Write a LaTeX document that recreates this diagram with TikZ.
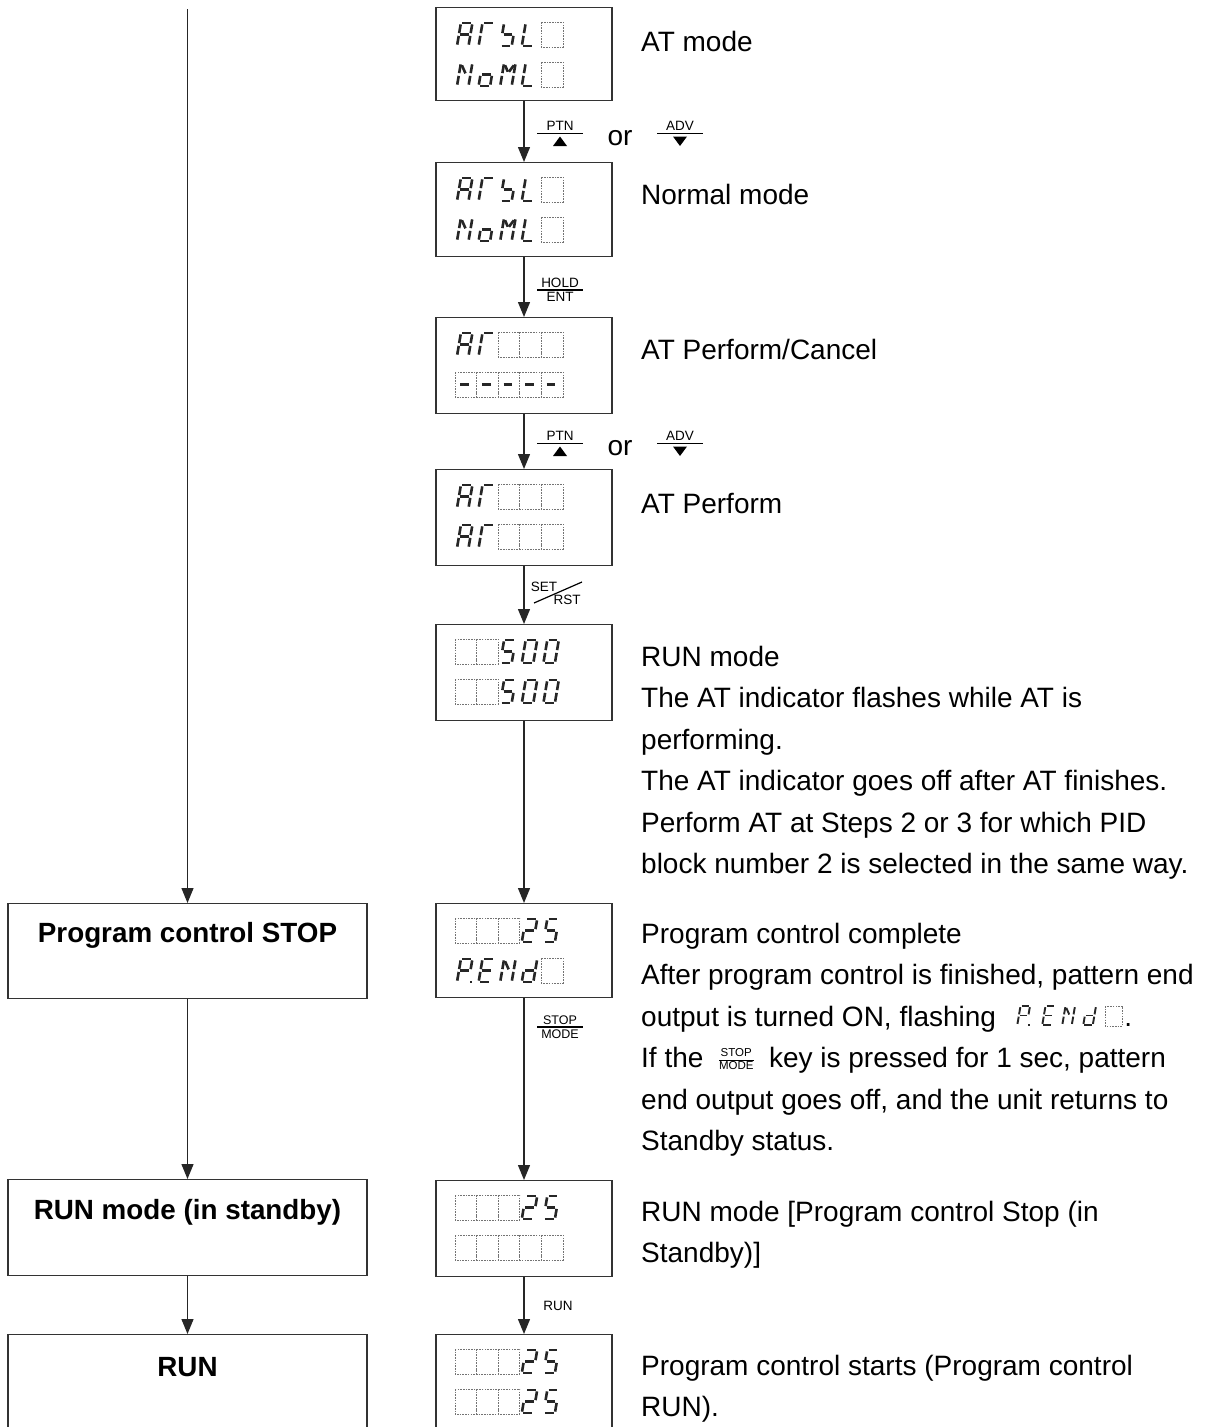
\documentclass[tikz,border=0pt]{standalone}
\usepackage{fontspec}
\setmainfont{Liberation Sans}
\usetikzlibrary{arrows.meta,calc}

% seven-segment pieces (local coords: x 0..1, y -1 top .. 0 bottom)
\newcommand\lcdSa{(0.12,-1)--(0.88,-1)}
\newcommand\lcdSb{(1,-0.94)--(1,-0.56)}
\newcommand\lcdSc{(1,-0.44)--(1,-0.06)}
\newcommand\lcdSd{(0.12,0)--(0.88,0)}
\newcommand\lcdSe{(0,-0.44)--(0,-0.06)}
\newcommand\lcdSf{(0,-0.94)--(0,-0.56)}
\newcommand\lcdSg{(0.12,-0.5)--(0.88,-0.5)}
\newcommand\lcdSn{(0.12,-0.9)--(0.55,-0.55)}
\newcommand\lcdSm{(0.12,-0.9)--(0.45,-0.62)}
\newcommand\lcdSk{(0.88,-0.9)--(0.55,-0.62)}
\newcommand\lcdSp{(1.16,0)--(1.3,0)}
\def\lcdW{11.5pt}\def\lcdH{23pt}
\newcommand\lcdchar[3]{\begin{scope}[shift={(#1,#2)},xslant=0.17,x=\lcdW,y=-\lcdH]%
\foreach \s in {#3}{\draw[lcdseg] \csname lcdS\s\endcsname;}\end{scope}}
\newcommand\glyph[3]{\pgfmathsetmacro\gx{455+21.6*(#1-1)+2}\pgfmathsetmacro\gy{#2+24}\lcdchar{\gx}{\gy}{#3}}
\newcommand\blank[2]{\pgfmathsetmacro\gx{455+21.6*(#1-1)}\draw[lcdcell] (\gx,#2) rectangle ++(21.6,25);}
\newcommand\dash[2]{\blank{#1}{#2}\glyph{#1}{#2}{g}}
\newcommand\inkey[2]{\raisebox{-1.5pt}{\fontsize{11.5}{11.5}\selectfont\setlength\arrayrulewidth{0.9pt}\setlength\tabcolsep{0pt}\begin{tabular}[b]{c}#1\\\hline #2\end{tabular}}}

\begin{document}
\begin{tikzpicture}[x=1pt,y=-1pt,
  lcdseg/.style={line width=2.6pt,draw=black!85},
  lcdcell/.style={draw=black!55,line width=0.8pt,dash pattern=on 1.6pt off 1.1pt},
  lcdbox/.style={draw=black!80,line width=1.3pt,minimum width=176pt,inner sep=0,anchor=north},
  lbox/.style={draw=black!80,line width=1.3pt,minimum width=359pt,inner sep=0,anchor=north},
  arr/.style={draw=black!85,line width=1.3pt,-{Triangle[width=12pt,length=15pt]}},
  txt/.style={anchor=base west,inner sep=0,font=\fontsize{28}{28}\selectfont},
  btxt/.style={inner sep=0,font=\fontsize{27.8}{27.8}\selectfont\bfseries},
  key/.style={inner sep=0,font=\fontsize{13.5}{13.5}\selectfont},
  skey/.style={inner sep=0,font=\fontsize{12.5}{12.5}\selectfont},
  rule/.style={line width=1.2pt,draw=black}]
\path[use as bounding box,clip] (0,0) rectangle (1206,1427);

% ---------- left column ----------
\coordinate (ltop) at (187.5,9);
\node[lbox,minimum height=95pt] (l1) at (187.5,903) {};
\node[lbox,minimum height=96pt] (l2) at (187.5,1179) {};
\node[lbox,minimum height=130pt] (l3) at (187.5,1334) {};
\node[btxt] (l1t) at (187.5,935) {Program control STOP};
\node[btxt] (l2t) at (187.5,1212) {RUN mode (in standby)};
\node[btxt] (l3t) at (187.5,1367) {RUN};
\draw[arr] (ltop) -- (l1.north);
\draw[arr] (l1.south) -- (l2.north);
\draw[arr] (l2.south) -- (l3.north);

% ---------- display boxes ----------
\node[lcdbox,minimum height=93pt] (b1) at (524,7) {};
\node[lcdbox,minimum height=94pt] (b2) at (524,162) {};
\node[lcdbox,minimum height=96pt] (b3) at (524,317) {};
\node[lcdbox,minimum height=96pt] (b4) at (524,469) {};
\node[lcdbox,minimum height=96pt] (b5) at (524,624) {};
\node[lcdbox,minimum height=94pt] (b6) at (524,903) {};
\node[lcdbox,minimum height=96pt] (b7) at (524,1180) {};
\node[lcdbox,minimum height=130pt] (b8) at (524,1334) {};

% box 1 and 2 : AT SL / NoML
\foreach \T in {7,162}{
  \pgfmathsetmacro\ra{\T+15}\pgfmathsetmacro\rb{\T+55}
  \glyph{1}{\ra}{a,b,c,e,f,g}\glyph{2}{\ra}{a,f,e}\glyph{3}{\ra}{f,g,c,d}\glyph{4}{\ra}{f,e,d}\blank{5}{\ra}
  \glyph{1}{\rb}{f,e,b,c,n}\glyph{2}{\rb}{g,c,d,e}\glyph{3}{\rb}{f,e,b,c,m,k}\glyph{4}{\rb}{f,e,d}\blank{5}{\rb}
}
% box 3
\glyph{1}{332}{a,b,c,e,f,g}\glyph{2}{332}{a,f,e}\blank{3}{332}\blank{4}{332}\blank{5}{332}
\dash{1}{372}\dash{2}{372}\dash{3}{372}\dash{4}{372}\dash{5}{372}
% box 4
\foreach \r in {484,524}{
  \glyph{1}{\r}{a,b,c,e,f,g}\glyph{2}{\r}{a,f,e}\blank{3}{\r}\blank{4}{\r}\blank{5}{\r}}
% box 5
\foreach \r in {639,679}{
  \blank{1}{\r}\blank{2}{\r}\glyph{3}{\r}{a,f,g,c,d}\glyph{4}{\r}{a,b,c,d,e,f}\glyph{5}{\r}{a,b,c,d,e,f}}
% box 6
\blank{1}{918}\blank{2}{918}\blank{3}{918}\glyph{4}{918}{a,b,g,e,d}\glyph{5}{918}{a,f,g,c,d}
\glyph{1}{958}{a,b,f,g,e,p}\glyph{2}{958}{a,f,g,e,d}\glyph{3}{958}{f,e,b,c,n}\glyph{4}{958}{b,c,d,e,g}\blank{5}{958}
% box 7
\blank{1}{1195}\blank{2}{1195}\blank{3}{1195}\glyph{4}{1195}{a,b,g,e,d}\glyph{5}{1195}{a,f,g,c,d}
\blank{1}{1235}\blank{2}{1235}\blank{3}{1235}\blank{4}{1235}\blank{5}{1235}
% box 8
\foreach \r in {1349,1389}{
  \blank{1}{\r}\blank{2}{\r}\blank{3}{\r}\glyph{4}{\r}{a,b,g,e,d}\glyph{5}{\r}{a,f,g,c,d}}

% ---------- centre arrows ----------
\draw[arr] (b1.south) -- (b2.north);
\draw[arr] (b2.south) -- (b3.north);
\draw[arr] (b3.south) -- (b4.north);
\draw[arr] (b4.south) -- (b5.north);
\draw[arr] (b5.south) -- (b6.north);
\draw[arr] (b6.south) -- (b7.north);
\draw[arr] (b7.south) -- (b8.north);

% ---------- key labels ----------
% PTN or ADV (1)
\node[key,anchor=south] (k1a) at (560,131) {PTN};
\draw[rule] (537,133.5) -- (583,133.5);
\fill (553,146) -- (567,146) -- (560,136.5) -- cycle;
\node[txt,anchor=base] (or1) at (620,145) {or};
\node[key,anchor=south] (k1b) at (680,131) {ADV};
\draw[rule] (657,133.5) -- (703,133.5);
\fill (673,136.5) -- (687,136.5) -- (680,146) -- cycle;
% HOLD/ENT
\node[key,anchor=south] (k2a) at (560,288) {HOLD};
\node[key,anchor=north] (k2b) at (560,292) {ENT};
\draw[rule] (537,290) -- (583,290);
% PTN or ADV (2)
\node[key,anchor=south] (k3a) at (560,441) {PTN};
\draw[rule] (537,443.5) -- (583,443.5);
\fill (553,456) -- (567,456) -- (560,446.5) -- cycle;
\node[txt,anchor=base] (or2) at (620,455) {or};
\node[key,anchor=south] (k3b) at (680,441) {ADV};
\draw[rule] (657,443.5) -- (703,443.5);
\fill (673,446.5) -- (687,446.5) -- (680,456) -- cycle;
% SET/RST
\node[key] (k4a) at (544,587) {SET};
\node[key] (k4b) at (567,600) {RST};
\draw[rule] (534,603) -- (582,582);
% STOP/MODE
\node[skey,anchor=south] (k5a) at (560,1025) {STOP};
\node[skey,anchor=north] (k5b) at (560,1029.5) {MODE};
\draw[rule] (537,1027) -- (583,1027);
% RUN
\node[key] (k6) at (558,1306) {RUN};

% ---------- right texts ----------
\node[txt] (t1) at (641,51) {AT mode};
\node[txt] (t2) at (641,204) {Normal mode};
\node[txt] (t3) at (641,359) {AT Perform/Cancel};
\node[txt] (t4) at (641,513) {AT Perform};
\node[txt] (t5) at (641,666) {RUN mode};
\node[txt] (t6) at (641,707.5) {The AT indicator flashes while AT is};
\node[txt] (t7) at (641,749) {performing.};
\node[txt] (t8) at (641,790.5) {The AT indicator goes off after AT finishes.};
\node[txt] (t9) at (641,832) {Perform AT at Steps 2 or 3 for which PID};
\node[txt] (t10) at (641,873.5) {block number 2 is selected in the same way.};
\node[txt] (t11) at (641,943) {Program control complete};
\node[txt] (t12) at (641,984.5) {After program control is finished, pattern end};
\node[txt] (t13) at (641,1026) {output is turned ON, flashing};
\node[txt] (t14) at (641,1067.5) {If the \ \inkey{STOP}{MODE}\ \ key is pressed for 1 sec, pattern};
\node[txt] (t15) at (641,1109) {end output goes off, and the unit returns to};
\node[txt] (t16) at (641,1150.5) {Standby status.};
\node[txt] (t17) at (641,1221) {RUN mode [Program control Stop (in};
\node[txt] (t18) at (641,1262.5) {Standby)]};
\node[txt] (t19) at (641,1375) {Program control starts (Program control};
\node[txt] (t20) at (641,1416.5) {RUN).};

% inline P.END in line t13
\begin{scope}[shift={(t13.base east)}]
  \def\lcdW{9.5pt}\def\lcdH{19pt}
  \tikzset{lcdseg/.append style={line width=1.9pt}}
  \lcdchar{21}{-1}{a,b,f,g,e,p}
  \lcdchar{46}{-1}{a,f,g,e,d}
  \lcdchar{66}{-1}{f,e,b,c,n}
  \lcdchar{87}{-1}{b,c,d,e,g}
  \draw[lcdcell] (109,-20) rectangle (126,0);
  \node[txt] (pd) at (128,0) {.};
\end{scope}
\end{tikzpicture}
\end{document}
